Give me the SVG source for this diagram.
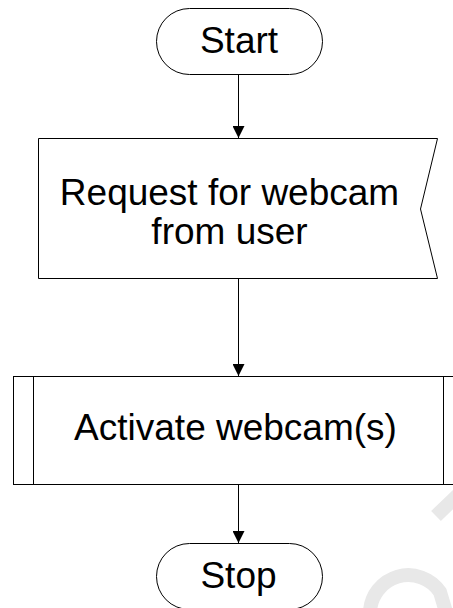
<svg xmlns="http://www.w3.org/2000/svg" width="453" height="608" viewBox="0 0 453 608">
<defs>
<style>
.shape{fill:#fff;stroke:#000;stroke-width:1}
.lbl{font-family:"Liberation Sans",Arial,sans-serif;font-size:37px;fill:#000;text-anchor:middle}
.conn{stroke:#000;stroke-width:1;fill:none}
.wm{stroke:#e8e8e8;stroke-width:14;fill:none}
</style>
<marker id="arr" viewBox="0 0 12 12" refX="12" refY="6" markerWidth="12" markerHeight="12" markerUnits="userSpaceOnUse" orient="auto">
<path d="M0,0 L12,6 L0,12 Z" fill="#000"/>
</marker>
</defs>
<rect width="453" height="608" fill="#fff"/>
<g id="watermark">
<path class="wm" d="M436,516 L462,491"/>
<path class="wm" d="M370,612 A38.3,38.3 0 0 1 440,592 L446,612"/>
</g>
<g id="start">
<rect class="shape" x="156.5" y="8.5" width="166" height="66" rx="33" ry="33"/>
<text class="lbl" x="239" y="53">Start</text>
</g>
<g id="request">
<path class="shape" d="M38.5,138.5 L437.5,138.5 L420.5,209 L437.5,278.5 L38.5,278.5 Z"/>
<text class="lbl" x="229.5" y="205">Request for webcam</text>
<text class="lbl" x="229.5" y="244">from user</text>
</g>
<g id="activate">
<rect class="shape" x="13.5" y="376.5" width="460" height="108"/>
<line class="conn" x1="33.5" y1="376.5" x2="33.5" y2="484.5"/>
<line class="conn" x1="443.5" y1="376.5" x2="443.5" y2="484.5"/>
<text class="lbl" x="235.5" y="440">Activate webcam(s)</text>
</g>
<g id="stop">
<rect class="shape" x="156.5" y="543.5" width="166" height="66" rx="33" ry="33"/>
<text class="lbl" x="238.5" y="588">Stop</text>
</g>
<g id="connectors">
<line class="conn" x1="238.5" y1="75" x2="238.5" y2="138" marker-end="url(#arr)"/>
<line class="conn" x1="238.5" y1="279" x2="238.5" y2="376" marker-end="url(#arr)"/>
<line class="conn" x1="238.5" y1="485" x2="238.5" y2="543" marker-end="url(#arr)"/>
</g>
</svg>
